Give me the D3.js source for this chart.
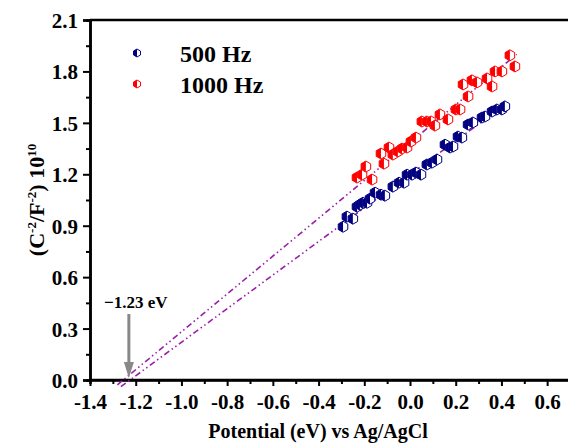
<!DOCTYPE html>
<html>
<head>
<meta charset="utf-8">
<script src="https://cdn.jsdelivr.net/npm/d3@7"></script>
<style>
  body { margin: 0; background: #fff; }
  text { font-family: "Liberation Serif", "Times New Roman", serif; font-weight: bold; }
</style>
</head>
<body>
<svg id="chart" width="568" height="445"></svg>
<script>
/* Mott-Schottky Diagramm, 500 Hz und 1000 Hz */

// 500 Hz
let x500 = [-0.293, -0.276, -0.250, -0.232, -0.219, -0.206, -0.188, -0.175, -0.153, -0.127,
            -0.110, -0.075, -0.048, -0.026, -0.013, 0.009, 0.026, 0.048, 0.074, 0.096,
            0.118, 0.153, 0.175, 0.188, 0.210, 0.227, 0.254, 0.275, 0.315, 0.328,
            0.359, 0.380, 0.402, 0.415];
let y500 = [0.894, 0.953, 0.941, 1.011, 1.023, 1.034, 1.034, 1.058, 1.093, 1.081,
            1.075, 1.128, 1.151, 1.151, 1.198, 1.198, 1.210, 1.198, 1.257, 1.268,
            1.286, 1.373, 1.356, 1.362, 1.420, 1.414, 1.490, 1.502, 1.531, 1.537,
            1.566, 1.578, 1.578, 1.596];

// 1000 Hz
let x1000 = [-0.232, -0.210, -0.193, -0.166, -0.127, -0.114, -0.092, -0.075, -0.053, -0.035,
             -0.013, 0.004, 0.026, 0.052, 0.074, 0.092, 0.109, 0.131, 0.166, 0.201,
             0.219, 0.232, 0.254, 0.271, 0.293, 0.337, 0.359, 0.372, 0.402, 0.437,
             0.459];
let y1000 = [1.181, 1.198, 1.245, 1.169, 1.321, 1.262, 1.356, 1.315, 1.333, 1.350,
             1.356, 1.391, 1.414, 1.508, 1.508, 1.508, 1.484, 1.549, 1.520, 1.578,
             1.578, 1.724, 1.654, 1.748, 1.736, 1.759, 1.712, 1.800, 1.800, 1.894,
             1.829];

// Fit-Linien (Anfang, Ende)
let fit500X = [-1.265, 0.43], fit500Y = [-0.039, 1.62];
let fit1000X = [-1.28, 0.467], fit1000Y = [-0.028, 1.90];

let xTicks = [-1.4, -1.2, -1.0, -0.8, -0.6, -0.4, -0.2, 0.0, 0.2, 0.4, 0.6];
let yTicks = [0.0, 0.3, 0.6, 0.9, 1.2, 1.5, 1.8, 2.1];
let seriesNames = ["500 Hz", "1000 Hz"];
let seriesColors = ["#000080", "#ff0000"];
let onset = -1.23;

let svg = d3.select("#chart");
let mLeft = 90, mRight = 570, mTop = 20, mBottom = 380;

let xScale = d3.scaleLinear().domain([-1.4, 0.7]).range([mLeft, mRight]);
let yScale = d3.scaleLinear().domain([0, 2.1]).range([mBottom, mTop]);

// Rahmen oben
svg.append("line")
    .attr("x1", mLeft).attr("x2", 568)
    .attr("y1", mTop).attr("y2", mTop)
    .attr("stroke", "#000").attr("stroke-width", 2.5);

// Nebenstriche
let xMinor = d3.range(-1.3, 0.7, 0.2);
let yMinor = d3.range(0.15, 2.1, 0.3);

let xAxisMinor = d3.axisBottom(xScale).tickValues(xMinor).tickSize(4).tickFormat("");
let yAxisMinor = d3.axisLeft(yScale).tickValues(yMinor).tickSize(4).tickFormat("");

svg.append("g").attr("transform", `translate(0,${mBottom})`).call(xAxisMinor);
svg.append("g").attr("transform", `translate(${mLeft},0)`).call(yAxisMinor);

let xAxis = d3.axisBottom(xScale)
    .tickValues(xTicks)
    .tickSize(6)
    .tickPadding(8)
    .tickFormat(d => d3.format(".1f")(d).replace("\u2212", "-"));
let yAxis = d3.axisLeft(yScale)
    .tickValues(yTicks)
    .tickSize(7)
    .tickPadding(5)
    .tickFormat(d3.format(".1f"));

let gx = svg.append("g").attr("transform", `translate(0,${mBottom})`).call(xAxis);
let gy = svg.append("g").attr("transform", `translate(${mLeft},0)`).call(yAxis);

svg.selectAll(".domain").attr("stroke", "#000").attr("stroke-width", 2.5);
svg.selectAll(".tick line").attr("stroke", "#000").attr("stroke-width", 2);
gx.selectAll("text").attr("font-size", 21).attr("fill", "#000");
gy.selectAll("text").attr("font-size", 21).attr("fill", "#000").attr("dy", "0.36em");
gx.select(".domain").attr("d", `M${mLeft},0H568`);

// Fit-Linien
let line = d3.line().x(d => xScale(d[0])).y(d => yScale(d[1]));
[[fit500X, fit500Y], [fit1000X, fit1000Y]].forEach(function (f) {
    svg.append("path")
        .datum(d3.zip(f[0], f[1]))
        .attr("d", line)
        .attr("fill", "none")
        .attr("stroke", "#9a1fa8")
        .attr("stroke-width", 1.6)
        .attr("stroke-dasharray", "6,3,1.5,3,1.5,3");
});

// Sechseck-Marker, linke Hälfte gefüllt
function hexFull(r) {
    let c = r * Math.cos(Math.PI / 6);
    return `M0,${-r}L${c},${-r / 2}L${c},${r / 2}L0,${r}L${-c},${r / 2}L${-c},${-r / 2}Z`;
}
function hexLeft(r) {
    let c = r * Math.cos(Math.PI / 6);
    return `M0,${-r}L0,${r}L${-c},${r / 2}L${-c},${-r / 2}Z`;
}
function drawMarkers(xs, ys, color, r) {
    let g = svg.append("g");
    let pts = d3.zip(xs, ys);
    let m = g.selectAll("g").data(pts).enter().append("g")
        .attr("transform", d => `translate(${xScale(d[0])},${yScale(d[1])})`);
    m.append("path").attr("d", hexFull(r)).attr("fill", "#fff")
        .attr("stroke", color).attr("stroke-width", 1);
    m.append("path").attr("d", hexLeft(r)).attr("fill", color);
}
drawMarkers(x500, y500, seriesColors[0], 5.5);
drawMarkers(x1000, y1000, seriesColors[1], 5.5);

// Legende
seriesNames.forEach(function (name, i) {
    let ly = 53 + i * 31;
    let g = svg.append("g").attr("transform", `translate(137,${ly})`);
    g.append("path").attr("d", hexFull(4)).attr("fill", "#fff")
        .attr("stroke", seriesColors[i]).attr("stroke-width", 1);
    g.append("path").attr("d", hexLeft(4)).attr("fill", seriesColors[i]);
    svg.append("text")
        .attr("x", 180).attr("y", ly + 9)
        .attr("font-size", 24)
        .text(name);
});

// Pfeil bei -1.23 eV
let ax = xScale(onset);
svg.append("line")
    .attr("x1", ax).attr("x2", ax)
    .attr("y1", 314).attr("y2", 364)
    .attr("stroke", "#888").attr("stroke-width", 3);
svg.append("path")
    .attr("d", `M${ax - 5},362L${ax + 5},362L${ax},${yScale(0) - 2}Z`)
    .attr("fill", "#888");
svg.append("text")
    .attr("x", 104).attr("y", 308)
    .attr("font-size", 17)
    .text("\u22121.23 eV");

// Achsentitel
svg.append("text")
    .attr("x", 318).attr("y", 438)
    .attr("text-anchor", "middle")
    .attr("font-size", 20)
    .text("Potential (eV) vs Ag/AgCl");

let yl = svg.append("text")
    .attr("transform", "translate(44,200) rotate(-90)")
    .attr("text-anchor", "middle")
    .attr("font-size", 22);
yl.append("tspan").text("(C");
yl.append("tspan").attr("font-size", 13).attr("dy", -8).text("-2");
yl.append("tspan").attr("dy", 8).text("/F");
yl.append("tspan").attr("font-size", 13).attr("dy", -8).text("-2");
yl.append("tspan").attr("dy", 8).text(") 10");
yl.append("tspan").attr("font-size", 13).attr("dy", -8).text("10");
</script>
</body>
</html>
